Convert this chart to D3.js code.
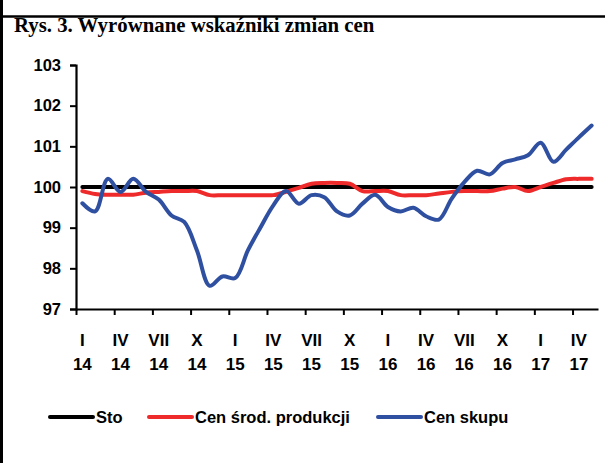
<!DOCTYPE html>
<html><head><meta charset="utf-8">
<script src="https://cdn.jsdelivr.net/npm/d3@7"></script>
<style>body{margin:0;background:#fff}svg{display:block}</style>
</head><body>
<script>
const tickTop = ["I","IV","VII","X","I","IV","VII","X","I","IV","VII","X","I","IV"];
const tickBottom = ["14","14","14","14","15","15","15","15","16","16","16","16","17","17"];
const yTicks = [97,98,99,100,101,102,103];
const sto = [100,100,100,100,100,100,100,100,100,100,100,100,100,100,100,100,100,100,100,100,100,100,100,100,100,100,100,100,100,100,100,100,100,100,100,100,100,100,100,100,100];
const cenSrod = [99.9,99.83,99.81,99.81,99.81,99.86,99.88,99.9,99.9,99.9,99.8,99.8,99.8,99.8,99.8,99.8,99.88,99.98,100.08,100.1,100.1,100.08,99.9,99.9,99.9,99.8,99.8,99.8,99.84,99.88,99.9,99.9,99.9,99.96,100.0,99.9,100.0,100.1,100.19,100.2,100.2];
const cenSkupu = [99.6,99.4,100.2,99.88,100.2,99.88,99.69,99.3,99.14,98.44,97.57,97.8,97.76,98.44,99.01,99.55,99.9,99.59,99.8,99.75,99.4,99.3,99.59,99.81,99.51,99.4,99.49,99.28,99.2,99.71,100.12,100.4,100.31,100.59,100.68,100.78,101.09,100.62,100.92,101.22,101.51];
const seriesNames = ["Sto","Cen środ. produkcji","Cen skupu"];
const colors = ["#000000","#ee2a2a","#2f4fa0"];

const W = 605, H = 463;
const svg = d3.select("body").append("svg").attr("width", W).attr("height", H);

// frame
svg.append("line").attr("x1",1.5).attr("x2",1.5).attr("y1",0).attr("y2",H).attr("stroke","#000").attr("stroke-width",3);
svg.append("line").attr("x1",0).attr("x2",W).attr("y1",16.5).attr("y2",16.5).attr("stroke","#000").attr("stroke-width",2.5);

svg.append("text").attr("x",14).attr("y",32).attr("font-family","'Liberation Serif','Times New Roman',serif")
  .attr("font-weight","bold").attr("font-size",20.8).text("Rys. 3. Wyrównane wskaźniki zmian cen");

const n = cenSkupu.length;
const x = d3.scaleLinear().domain([0, n]).range([76, 598]);
const y = d3.scaleLinear().domain([97, 103]).range([309, 65]);

// y axis
const yAxis = svg.append("g").attr("transform","translate(76,0)")
  .call(d3.axisLeft(y).tickValues(yTicks).tickSize(6).tickPadding(9).tickFormat(d3.format("d")));
yAxis.select(".domain").attr("stroke-width",2.2);
yAxis.selectAll(".tick line").attr("stroke-width",2);
yAxis.selectAll("text").attr("font-family","'Liberation Sans',Arial,sans-serif").attr("font-weight","bold").attr("font-size",16.5).attr("fill","#000");

// x axis
const tickIdx = tickTop.map((_, i) => i * 3);
const xAxis = svg.append("g").attr("transform","translate(0,309)")
  .call(d3.axisBottom(x).tickValues(tickIdx).tickSize(6).tickSizeOuter(0).tickFormat(""));
xAxis.select(".domain").attr("stroke-width",2.2);
xAxis.selectAll(".tick line").attr("stroke-width",2);

const lab = svg.append("g").attr("font-family","'Liberation Sans',Arial,sans-serif").attr("font-weight","bold").attr("font-size",17).attr("text-anchor","middle");
tickIdx.forEach((t, i) => {
  lab.append("text").attr("x", x(t + 0.5)).attr("y", 345.5).text(tickTop[i]);
  lab.append("text").attr("x", x(t + 0.5)).attr("y", 370).text(tickBottom[i]);
});

const line = d3.line().x((d, i) => x(i + 0.5)).y(d => y(d)).curve(d3.curveCatmullRom.alpha(0.5));
[sto, cenSrod, cenSkupu].forEach((s, k) => {
  svg.append("path").attr("d", line(s)).attr("fill","none").attr("stroke", colors[k])
    .attr("stroke-width", 4).attr("stroke-linejoin","round").attr("stroke-linecap","round");
});

// legend
const legX = [50, 149, 378];
const leg = svg.append("g").attr("font-family","'Liberation Sans',Arial,sans-serif").attr("font-weight","bold").attr("font-size",16.5);
seriesNames.forEach((nm, k) => {
  leg.append("line").attr("x1", legX[k]).attr("x2", legX[k] + 43).attr("y1", 417).attr("y2", 417)
    .attr("stroke", colors[k]).attr("stroke-width", 4).attr("stroke-linecap","round");
  leg.append("text").attr("x", legX[k] + 46).attr("y", 423).text(nm);
});
</script>
</body></html>
